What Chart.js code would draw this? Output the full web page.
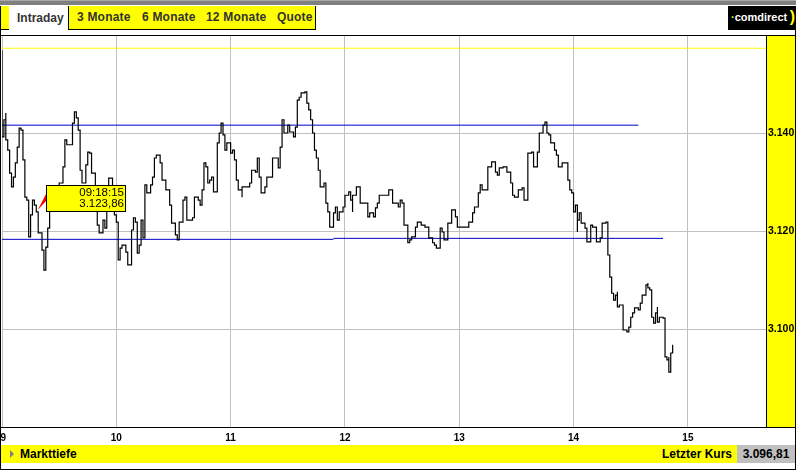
<!DOCTYPE html>
<html>
<head>
<meta charset="utf-8">
<script src="https://cdn.jsdelivr.net/npm/chart.js@4.4.0/dist/chart.umd.min.js"></script>
<style>
body { margin: 0; background: #fff; }
#wrap { position: relative; width: 796px; height: 471px; overflow: hidden; background: #fff;
        font-family: 'Liberation Sans', Arial, sans-serif; }
.abs { position: absolute; box-sizing: border-box; }
#topbar { left: 0; top: 0; width: 796px; height: 5px; background: #808080; border-top: 1px solid #a8a8a8; }
#tabcap { left: 0; top: 6px; width: 10px; height: 24px; background: #ff0; border: 1px solid #000; border-top: none; }
#tabOn { left: 9px; top: 6px; width: 60px; height: 29px; background: #fff; font-size: 12px; font-weight: bold;
         color: #333; line-height: 24px; padding-left: 8px; }
#tabs { left: 68px; top: 6px; width: 248px; height: 24px; background: #ff0; border: 1px solid #000; border-top: none; }
.tab { position: absolute; top: 0; line-height: 23px; font-size: 12px; font-weight: bold; color: #333; white-space: nowrap; letter-spacing: 0.2px; }
#logo { left: 728px; top: 6px; width: 68px; height: 24px; background: #000; }
#logo .txt { position: absolute; left: 3px; top: 0; color: #fff; font-size: 11px; font-weight: bold; line-height: 23px; white-space: nowrap; }
#logo .y { color: #ff0; }
#logo .br { position: absolute; right: 1px; top: -1px; color: #ff0; font-size: 16px; font-weight: bold; line-height: 23px; }
#panel { left: 766px; top: 35px; width: 30px; height: 392px; background: #ff0; }
#chart { position: absolute; left: 0; top: 35px; }
.line { position: absolute; background: #000; }
#footer { left: 1px; top: 445px; width: 736px; height: 18px; background: #ff0; font-size: 12px; font-weight: bold;
          color: #000; line-height: 18px; }
#tri { position: absolute; left: 9px; top: 5px; width: 0; height: 0; border-top: 4px solid transparent;
       border-bottom: 4px solid transparent; border-left: 4px solid #808080; }
#last { left: 737px; top: 445px; width: 58px; height: 18px; background: #c0c0c0; font-size: 12px; font-weight: bold;
        color: #000; line-height: 18px; text-align: center; }
</style>
</head>
<body>
<div id="wrap">
  <div id="topbar" class="abs"></div>
  <div id="tabcap" class="abs"></div>
  <div id="tabOn" class="abs">Intraday</div>
  <div id="tabs" class="abs">
    <span class="tab" style="left:8px">3 Monate</span>
    <span class="tab" style="left:73px">6 Monate</span>
    <span class="tab" style="left:137px">12 Monate</span>
    <span class="tab" style="left:208px">Quote</span>
  </div>
  <div id="logo" class="abs"><span class="txt"><span class="y">&middot;</span>comdirect</span><span class="br">)</span></div>
  <div id="panel" class="abs"></div>
  <canvas id="chart" width="796" height="410"></canvas>
  <div class="line" style="left:0;top:35px;width:796px;height:1px"></div>
  <div class="line" style="left:0;top:427px;width:796px;height:1px"></div>
  <div class="line" style="left:766px;top:35px;width:1px;height:392px"></div>
  <div class="line" style="left:0;top:6px;width:1px;height:464px"></div>
  <div class="line" style="left:795px;top:30px;width:1px;height:440px"></div>
  <div class="line" style="left:0;top:469px;width:796px;height:1px"></div>
  <div id="footer" class="abs">
    <div id="tri"></div>
    <span style="position:absolute;left:19px">Markttiefe</span>
    <span style="position:absolute;right:5px">Letzter Kurs</span>
  </div>
  <div id="last" class="abs"></div>
</div>
<script>
// intraday ticks, one line per hour
const times = [
  '09:00','09:00','09:01','09:02','09:02','09:03','09:04','09:05','09:06','09:07','09:08','09:09','09:10','09:11','09:12','09:13','09:14','09:15','09:16','09:17','09:18','09:19','09:21','09:22','09:23','09:24','09:25','09:27','09:29','09:30','09:32','09:33','09:34','09:37','09:38','09:39','09:40','09:41','09:42','09:44','09:45','09:46','09:47','09:49','09:50','09:51','09:53','09:54','09:55','09:56','09:58','09:59',
  '10:00','10:01','10:02','10:03','10:05','10:06','10:08','10:09','10:10','10:11','10:12','10:13','10:14','10:15','10:16','10:18','10:19','10:20','10:21','10:23','10:24','10:26','10:28','10:29','10:31','10:32','10:33','10:35','10:36','10:37','10:40','10:41','10:43','10:44','10:45','10:46','10:47','10:48','10:49','10:50','10:51','10:53','10:53','10:54','10:55','10:56','10:57','10:58','10:58',
  '11:00','11:01','11:02','11:03','11:04','11:06','11:06','11:08','11:10','11:11','11:13','11:14','11:15','11:16','11:18','11:19','11:22','11:22','11:24','11:25','11:26','11:27','11:28','11:30','11:31','11:33','11:34','11:35','11:35','11:36','11:37','11:39','11:40','11:41','11:42','11:43','11:43','11:44','11:45','11:46','11:47','11:48','11:49','11:50','11:51','11:52','11:54','11:55','11:56','11:57','11:59',
  '12:00','12:02','12:03','12:04','12:04','12:06','12:08','12:09','12:12','12:13','12:15','12:16','12:17','12:18','12:21','12:23','12:25','12:25','12:28','12:29','12:30','12:31','12:33','12:34','12:35','12:37','12:38','12:40','12:42','12:44','12:46','12:47','12:48','12:50','12:51','12:52','12:54','12:56','12:58','12:59',
  '13:02','13:05','13:07','13:08','13:10','13:11','13:12','13:14','13:15','13:17','13:19','13:20','13:21','13:23','13:25','13:27','13:28','13:29','13:31','13:33','13:34','13:36','13:36','13:38','13:39','13:41','13:41','13:42','13:44','13:45','13:46','13:47','13:48','13:49','13:50','13:51','13:52','13:54','13:55','13:57','13:58','13:59',
  '14:00','14:01','14:02','14:02','14:03','14:04','14:06','14:07','14:09','14:10','14:12','14:14','14:15','14:17','14:18','14:18','14:19','14:20','14:21','14:22','14:23','14:23','14:24','14:26','14:26','14:28','14:29','14:30','14:31','14:32','14:34','14:35','14:36','14:38','14:39','14:39','14:40','14:41','14:42','14:43','14:44','14:44','14:45','14:47','14:48','14:48','14:49','14:50','14:50','14:51','14:52'
];
const prices = [
  3156.9,3139.2,3142.7,3144.1,3138.6,3136.5,3131.8,3129.0,3131.0,3133.9,3137.1,3141.0,3140.6,3134.5,3126.9,3126.3,3118.8,3123.3,3126.3,3125.3,3123.9,3119.6,3116.1,3112.0,3116.7,3120.6,3125.3,3126.7,3128.0,3129.8,3133.1,3138.6,3137.6,3142.0,3144.3,3143.1,3140.6,3132.4,3129.8,3133.5,3136.1,3135.9,3131.8,3125.3,3121.2,3119.6,3122.2,3120.6,3127.3,3130.8,3126.3,3123.3,
  3121.8,3114.1,3116.5,3117.1,3115.7,3113.1,3120.2,3122.7,3121.8,3115.5,3117.1,3122.2,3118.6,3129.4,3127.8,3129.4,3131.0,3134.9,3135.5,3133.9,3130.4,3128.4,3125.3,3121.6,3119.2,3118.2,3121.8,3126.3,3126.9,3122.2,3122.7,3126.9,3126.3,3125.3,3128.4,3133.9,3133.1,3129.8,3130.4,3131.0,3128.0,3131.8,3138.0,3140.0,3142.0,3139.6,3136.5,3136.5,3138.0,
  3135.9,3136.5,3134.5,3130.4,3128.4,3126.9,3129.0,3129.0,3129.8,3132.4,3132.0,3134.9,3131.0,3127.8,3129.0,3131.0,3131.8,3134.9,3134.9,3132.9,3137.1,3142.7,3140.0,3141.6,3140.2,3139.2,3141.2,3142.0,3146.7,3147.3,3148.2,3148.4,3146.1,3144.7,3142.7,3141.6,3140.0,3136.5,3134.9,3132.4,3129.0,3129.0,3129.8,3125.7,3123.9,3120.8,3123.7,3124.9,3122.2,3123.9,3124.9,
  3127.3,3128.0,3126.3,3123.9,3127.3,3129.0,3125.7,3125.7,3122.9,3123.7,3122.9,3124.7,3125.7,3127.3,3127.3,3128.4,3127.3,3125.7,3124.9,3126.3,3125.7,3121.2,3117.6,3118.2,3118.8,3120.8,3121.8,3121.2,3120.8,3118.6,3117.6,3117.1,3116.5,3120.6,3119.8,3118.2,3121.6,3124.3,3122.9,3120.8,
  3120.8,3121.8,3123.7,3124.9,3127.8,3129.4,3128.4,3128.4,3133.1,3134.1,3132.0,3131.4,3132.9,3133.1,3132.0,3129.8,3127.3,3126.9,3128.4,3128.8,3126.3,3130.4,3135.9,3136.1,3133.1,3134.1,3136.1,3140.0,3141.6,3142.2,3140.0,3139.6,3138.0,3138.0,3136.5,3135.5,3133.1,3133.9,3133.9,3130.4,3128.4,3127.8,
  3123.9,3125.3,3119.8,3122.2,3123.7,3121.6,3120.6,3117.8,3121.2,3120.8,3117.8,3118.6,3121.6,3121.8,3117.6,3115.1,3110.6,3107.3,3105.9,3106.9,3107.6,3104.5,3104.9,3103.3,3099.8,3099.4,3100.4,3102.4,3103.3,3104.3,3103.9,3105.3,3106.9,3109.0,3109.4,3108.4,3108.0,3102.4,3101.2,3103.3,3104.5,3101.4,3102.4,3102.2,3096.3,3094.3,3093.7,3094.3,3091.2,3095.1,3096.81
];

// horizontal level lines (yellow one first, then the blue ones)
const levelValues = [3157.3, 3141.6, 3118.3, 3118.5];
const levelFrom = ['09:00', '09:00', '09:00', '11:54'];
const levelTo = ['15:41', '14:34', '11:54', '14:47'];
const levelColors = ['#ffff00', '#0000c8', '#0000c8', '#0000c8'];

const hourTicks = [9, 10, 11, 12, 13, 14, 15];
const priceTicks = [3100, 3120, 3140];
const axisStart = '09:00';
const axisEnd = '15:41';
const priceMin = 3080;
const priceMax = 3160;

const markerTime = '09:18:15';
const markerValue = 3123.86;

const fontFamily = "'Liberation Sans', Arial, sans-serif";

function toHour(t) {
    const p = t.split(':').map(Number);
    return p[0] + p[1] / 60 + (p[2] || 0) / 3600;
}

function thousands(s) {
    return s.replace(/\B(?=(\d{3})+(?!\d))/g, '.');
}

function fmtDE(v) {
    const parts = v.toFixed(2).split('.');
    return thousands(parts[0]) + ',' + parts[1];
}

document.getElementById('last').textContent = fmtDE(prices[prices.length - 1]);

const markerPlugin = {
    id: 'marker',
    afterDatasetsDraw(chart) {
        const {ctx, scales} = chart;
        const px = scales.x.getPixelForValue(toHour(markerTime));
        const py = scales.y.getPixelForValue(markerValue);
        const bx = Math.round(px + 9), by = Math.round(py - 27), bw = 80, bh = 27;
        ctx.save();
        ctx.fillStyle = '#ff0000';
        ctx.beginPath();
        ctx.moveTo(px + 1, py - 2);
        ctx.lineTo(bx, py - 18);
        ctx.lineTo(bx, py - 11);
        ctx.closePath();
        ctx.fill();
        ctx.fillStyle = '#ffff00';
        ctx.fillRect(bx, by, bw, bh);
        ctx.strokeStyle = '#000';
        ctx.lineWidth = 1;
        ctx.strokeRect(bx + 0.5, by + 0.5, bw - 1, bh - 1);
        ctx.fillStyle = '#000';
        ctx.font = '11.5px ' + fontFamily;
        ctx.textAlign = 'right';
        ctx.textBaseline = 'alphabetic';
        ctx.fillText(markerTime, bx + 78, py - 16);
        ctx.fillText(fmtDE(markerValue), bx + 78, py - 5);
        ctx.restore();
    }
};

const priceData = times.map((t, i) => ({x: toHour(t), y: prices[i]}));

const levelSets = levelValues.map((v, i) => ({
    data: [{x: toHour(levelFrom[i]), y: v}, {x: toHour(levelTo[i]), y: v}],
    borderColor: levelColors[i],
    borderWidth: 1,
    pointRadius: 0,
    order: 1
}));

const ctx = document.getElementById('chart').getContext('2d');
new Chart(ctx, {
    type: 'line',
    data: {
        datasets: [{
            data: priceData,
            borderColor: '#000',
            borderWidth: 1.2,
            pointRadius: 0,
            stepped: true,
            order: 0
        }, ...levelSets]
    },
    options: {
        responsive: false,
        animation: false,
        devicePixelRatio: 1,
        events: [],
        layout: {padding: {left: 2, right: 1, top: 0, bottom: 0}},
        plugins: {legend: {display: false}, tooltip: {enabled: false}},
        scales: {
            x: {
                type: 'linear',
                min: toHour(axisStart),
                max: toHour(axisEnd),
                afterBuildTicks: s => { s.ticks = hourTicks.map(v => ({value: v})); },
                afterFit: s => { s.height = 18; s.paddingLeft = 0; s.paddingRight = 0; },
                grid: {color: '#c0c0c0', drawTicks: false},
                border: {display: false},
                ticks: {
                    padding: 5,
                    maxRotation: 0,
                    autoSkip: false,
                    color: '#000',
                    font: {family: fontFamily, size: 10, weight: 'bold'},
                    callback: v => v === 9 ? ' 9' : String(v)
                }
            },
            y: {
                position: 'right',
                min: priceMin,
                max: priceMax,
                afterBuildTicks: s => { s.ticks = priceTicks.map(v => ({value: v})); },
                afterFit: s => { s.width = 29; s.paddingTop = 0; s.paddingBottom = 0; },
                grid: {color: '#c0c0c0', drawTicks: false},
                border: {display: false},
                ticks: {
                    padding: 2,
                    color: '#000',
                    font: {family: fontFamily, size: 10.5, weight: 'bold'},
                    callback: v => thousands(String(v))
                }
            }
        }
    },
    plugins: [markerPlugin]
});
</script>
</body>
</html>
